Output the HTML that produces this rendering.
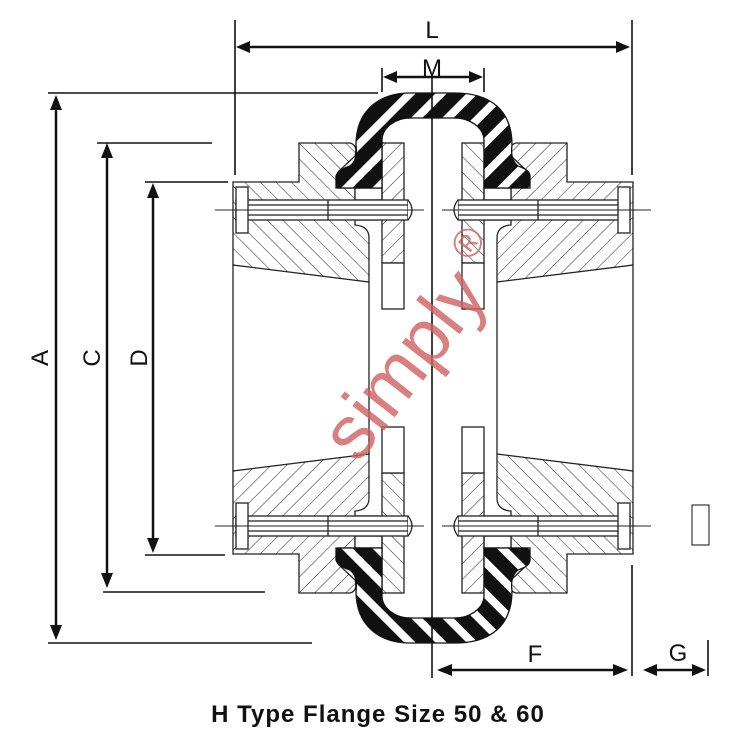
<!DOCTYPE html>
<html><head><meta charset="utf-8"><style>
html,body{margin:0;padding:0;background:#fff;}
svg{display:block;}
</style></head><body>
<svg width="756" height="744" viewBox="0 0 756 744" xmlns="http://www.w3.org/2000/svg" font-family="Liberation Sans, sans-serif">
<defs>
<pattern id="h" width="11" height="11" patternUnits="userSpaceOnUse" patternTransform="rotate(-45)">
<line x1="0" y1="0" x2="0" y2="11" stroke="#222" stroke-width="1"/>
</pattern>
<pattern id="h2" width="11" height="11" patternUnits="userSpaceOnUse" patternTransform="rotate(45)">
<line x1="0" y1="0" x2="0" y2="11" stroke="#222" stroke-width="1"/>
</pattern>
<pattern id="t" width="22" height="22" patternUnits="userSpaceOnUse" patternTransform="rotate(45)">
<rect width="22" height="22" fill="#111"/><rect x="0" width="8" height="22" fill="#fff"/>
</pattern>
<g id="q" stroke="#222" stroke-width="1.3">
<path d="M233,182 L299,182 L299,143 L350,143 Q358,145 355,156 L338,172 L338,188 L355,188 L355,200 L382,200 L382,220 L355,220 L355,225 Q369,226 369,238 L369,282 L233,265 Z" fill="url(#h)"/>
<rect x="355" y="188" width="27" height="12" fill="#fff"/>
<rect x="382" y="143" width="22" height="120" fill="url(#h2)"/>
<rect x="382" y="263" width="22" height="46" fill="#fff"/>
<rect x="236" y="200" width="172" height="20" fill="#fff"/>
<path d="M408,200 Q416,210 408,220" fill="#fff"/>
<line x1="236" y1="205" x2="408" y2="205"/>
<line x1="236" y1="215" x2="408" y2="215"/>
<line x1="328" y1="200" x2="328" y2="220"/>
<rect x="236" y="187" width="12" height="46" fill="#fff"/>
<line x1="233" y1="265" x2="233" y2="368"/>
<line x1="369" y1="282" x2="369" y2="368"/>
<line x1="215" y1="210" x2="424" y2="210" stroke-width="1"/>
</g>
<path id="ty" d="M336,188 L336,176 Q338,170 350,166 Q358,160 356,145 C356,110 380,93 410,93 L455,93 C490,93 512,110 512,145 Q510,160 518,166 Q530,170 530,176 L530,188 L484,188 L484,140 C484,128 470,118 455,118 L410,118 C395,118 382,128 382,140 L382,188 Z" fill="url(#t)" stroke="#111" stroke-width="1.3"/>
</defs>
<use href="#q"/>
<use href="#q" transform="translate(866,0) scale(-1,1)"/>
<use href="#q" transform="translate(0,736) scale(1,-1)"/>
<use href="#q" transform="translate(866,736) scale(-1,-1)"/>
<use href="#ty"/>
<use href="#ty" transform="translate(0,736) scale(1,-1)"/>

<g stroke="#111" stroke-width="1.6" fill="none">
<line x1="432" y1="75" x2="432" y2="678"/>
<line x1="235" y1="20" x2="235" y2="175"/><line x1="632" y1="20" x2="632" y2="175"/>
<line x1="248" y1="47" x2="618" y2="47" stroke-width="2.5"/>
<line x1="382" y1="68" x2="382" y2="92"/><line x1="484" y1="68" x2="484" y2="92"/>
<line x1="394" y1="77" x2="472" y2="77" stroke-width="2.5"/>
<line x1="48" y1="93" x2="378" y2="93"/><line x1="48" y1="643" x2="312" y2="643"/>
<line x1="56" y1="108" x2="56" y2="627" stroke-width="2.5"/>
<line x1="97" y1="143" x2="212" y2="143"/><line x1="103" y1="592" x2="265" y2="592"/>
<line x1="107" y1="156" x2="107" y2="575" stroke-width="2.5"/>
<line x1="145" y1="182" x2="228" y2="182"/><line x1="145" y1="555" x2="225" y2="555"/>
<line x1="153" y1="196" x2="153" y2="541" stroke-width="2.5"/>
<line x1="632" y1="565" x2="632" y2="676"/><line x1="708" y1="640" x2="708" y2="676"/>
<line x1="450" y1="670" x2="615" y2="670" stroke-width="2.5"/>
<line x1="655" y1="670" x2="695" y2="670" stroke-width="2.5"/>
<rect x="692" y="505" width="17" height="40" stroke-width="1"/>
</g>
<g fill="#111">
<polygon points="236,47 250,41 250,53"/><polygon points="630,47 616,41 616,53"/>
<polygon points="383,77 397,71 397,83"/><polygon points="483,77 469,71 469,83"/>
<polygon points="56,95 50,110 62,110"/><polygon points="56,640 50,625 62,625"/>
<polygon points="107,143 101,158 113,158"/><polygon points="107,588 101,573 113,573"/>
<polygon points="153,183 147,198 159,198"/><polygon points="153,553 147,538 159,538"/>
<polygon points="437,670 452,664 452,676"/><polygon points="628,670 613,664 613,676"/>
<polygon points="643,670 657,664 657,676"/><polygon points="706,670 692,664 692,676"/>
</g>
<g font-size="24" fill="#111" text-anchor="middle">
<text x="432" y="38">L</text>
<text x="432" y="76">M</text>
<text x="535" y="662">F</text>
<text x="678" y="661">G</text>
<text transform="translate(48,358) rotate(-90)">A</text>
<text transform="translate(100,358) rotate(-90)">C</text>
<text transform="translate(147,358) rotate(-90)">D</text>
</g>
<text x="378" y="722" font-size="24" font-weight="bold" text-anchor="middle" fill="#111" letter-spacing="1">H Type Flange Size 50 &amp; 60</text>
<g transform="translate(405,365) rotate(-52)" fill="#d06060" opacity="0.8">
<text x="0" y="24" font-size="76" text-anchor="middle">simply</text>
<text x="135" y="-12" font-size="40" text-anchor="middle">®</text>
</g>
</svg>
</body></html>
